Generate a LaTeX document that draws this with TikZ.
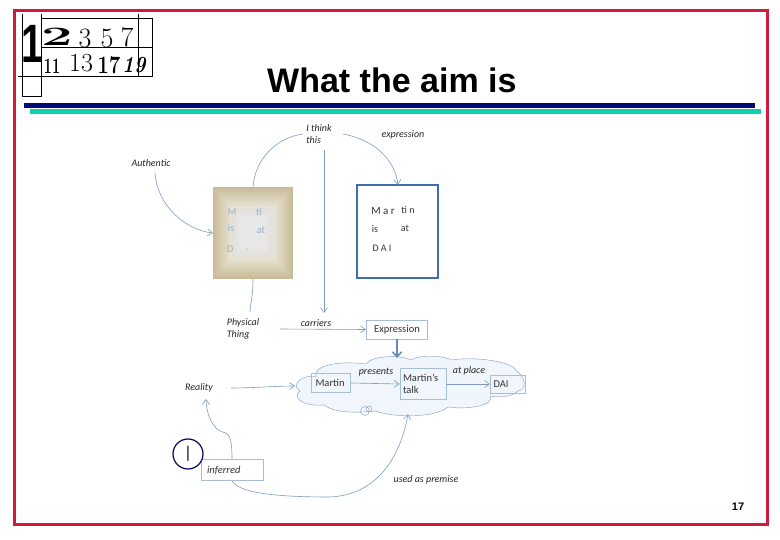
\documentclass[tikz,border=0pt]{standalone}
\usepackage{fontspec}
\setmainfont{Carlito}
\newfontfamily\titlefont{Liberation Sans}
\newfontfamily\logofont{Latin Modern Roman}
\usetikzlibrary{arrows.meta}
\definecolor{framered}{HTML}{D01C3C}
\definecolor{barnavy}{HTML}{000A78}
\definecolor{barteal}{HTML}{10D0B0}
\definecolor{linkblue}{HTML}{7F9CC4}
\definecolor{boxblue}{HTML}{3F6FA8}
\definecolor{boxpale}{HTML}{A8BDD8}
\definecolor{cloudfill}{HTML}{F1F6FC}
\definecolor{beige}{HTML}{C8BA96}
\definecolor{fadetext}{HTML}{9DB2CC}
\tikzset{
  link/.style={draw=linkblue,line width=0.6pt,-{Straight Barb[length=5pt,width=7pt]}},
  plainlink/.style={draw=linkblue,line width=0.6pt},
  lab/.style={font=\itshape\fontsize{10}{11}\selectfont,text=black!85,inner sep=0pt,align=left},
  concept/.style={draw=boxpale,fill=white,line width=0.9pt,font=\fontsize{10.5}{11.5}\selectfont,text=black!80,align=left,inner sep=0pt},
  logonum/.style={font=\logofont\fontsize{28}{28}\selectfont,inner sep=0pt},
  logobold/.style={font=\logofont\bfseries\fontsize{28}{28}\selectfont,inner sep=0pt},
  slidetext/.style={font=\fontsize{10}{10}\selectfont,text=black!80,inner sep=0pt},
  fadetxt/.style={font=\fontsize{10.5}{11}\selectfont,text=fadetext,inner sep=0pt},
}
\begin{document}
\begin{tikzpicture}[x=1pt,y=-1pt]
  \useasboundingbox (0,0) rectangle (780,540);
  \fill[white] (0,0) rectangle (780,540);
  % Slide frame and bars
  \draw[framered,line width=3pt] (14,11) rectangle (767,524);
  \fill[barnavy] (24,103) rectangle (755,108);
  \fill[barteal] (30,109) rectangle (761,114);
  \node[font=\titlefont\bfseries\fontsize{34}{36}\selectfont,anchor=west,inner sep=0pt] (title) at (267,80) {What the aim is};
  \node[font=\titlefont\bfseries\fontsize{11}{12}\selectfont,inner sep=0pt] (pageno) at (738,507) {17};
  % Logo grid
  \draw (22,14) -- (22,96) -- (41,96) -- (41,14);
  \draw (41,18) -- (152,18) -- (152,76) -- (18,76);
  \draw (138,14) -- (138,76);
  \draw[line width=1.2pt] (41,47.5) -- (152,47.5);
  % Logo digits
  \node[font=\titlefont\bfseries\fontsize{54}{54}\selectfont,inner sep=0pt,xscale=0.72] (one) at (32,44) {1};
  \node[logobold,xscale=2,yscale=0.95] (two) at (57,37) {2};
  \node[logonum] (three) at (85,38) {3};
  \node[logonum] (five) at (107,38) {5};
  \node[logonum] (seven) at (127,37) {7};
  \node[logobold,xscale=0.65,font=\logofont\bfseries\fontsize{22}{22}\selectfont] (eleven) at (52,66) {11};
  \node[logonum,font=\logofont\fontsize{26}{26}\selectfont] (thirteen) at (81,63) {13};
  \node[logobold,xscale=0.8,font=\logofont\bfseries\fontsize{25}{25}\selectfont] (seventeen) at (109,65) {17};
  \node[logobold,font=\logofont\bfseries\itshape\fontsize{23}{23}\selectfont,xscale=0.85] (nineteen) at (134,65) {19};
  % Faded text box
  \foreach \i in {0,...,27} {
    \pgfmathsetmacro{\shade}{100-\i*3.3}
    \fill[beige!\shade!white] ({213+\i},{187+\i*1.1}) rectangle ({293-\i},{279-\i*1.1});
  }
  \fill[black!14,opacity=0.55] (232,208) rectangle (273,258);
  \coordinate (boxw) at (213,233);
  \coordinate (boxn) at (253,187);
  \coordinate (boxs) at (253,279);
  \node[fadetxt] (fm) at (232,212) {M};
  \node[fadetxt] (fti) at (259,212) {ti};
  \node[fadetxt] (fis) at (231,228) {is};
  \node[fadetxt] (fat) at (261,230) {at};
  \node[fadetxt] (fd) at (230,249) {D};
  \node[fadetxt] (fdot) at (247,250) {.};
  % Clear text box
  \node[draw=boxblue,line width=1.2pt,minimum width=81pt,minimum height=93pt,inner sep=0pt] (page) at (397.5,231.5) {};
  \node[slidetext,font=\fontsize{11}{11}\selectfont] (mar) at (383,211) {M a r};
  \node[slidetext] (tin) at (408,210) {ti n};
  \node[slidetext] (is) at (375,229) {is};
  \node[slidetext] (at) at (405,228) {at};
  \node[slidetext] (dai) at (382,248) {D A I};
  % Labels
  \node[lab] (authentic) at (151,163) {Authentic};
  \node[lab] (think) at (319,134) {I think\\[1pt]this};
  \node[lab] (expression) at (403,135) {expression};
  \node[lab] (physical) at (243,329) {Physical\\[1pt]Thing};
  \node[lab] (carriers) at (316,323) {carriers};
  \node[lab] (reality) at (199,388) {Reality};
  \node[lab] (premise) at (426,480) {used as premise};
  \node[concept,minimum width=61pt,minimum height=19pt] (expr) at (397,329.5) {Expression};
  % Cloud
  \draw[draw=linkblue,fill=cloudfill] (296,386)
    .. controls (298,378) and (308,375) .. (316,377)
    .. controls (312,367) and (335,360) .. (366,364)
    .. controls (372,355) and (402,355) .. (411,360)
    .. controls (420,354) and (445,356) .. (452,360)
    .. controls (475,356) and (515,362) .. (516,371)
    .. controls (525,375) and (528,390) .. (518,391)
    .. controls (512,397) and (498,398) .. (490,396)
    .. controls (495,405) and (470,410) .. (448,407)
    .. controls (435,418) and (395,418) .. (375,411)
    .. controls (350,414) and (330,411) .. (325,405)
    .. controls (300,407) and (292,396) .. (300,391)
    .. controls (298,390) and (296,388) .. (296,386) -- cycle;
  \coordinate (cloudw) at (295,386);
  \coordinate (cloudn) at (397,358);
  \coordinate (clouds) at (408,414);
  \draw[draw=boxblue!70,thin] (365,411) circle (4.5pt);
  \draw[draw=boxblue!70,thin] (369,409) circle (3pt);
  \node[concept,fill=none,minimum width=39pt,minimum height=19pt,text width=31pt] (martin) at (331,383) {Martin};
  \node[concept,fill=none,minimum width=46pt,minimum height=31pt,text width=40pt] (talk) at (423,384) {Martin's\\talk};
  \node[concept,fill=none,minimum width=35pt,minimum height=18pt,text width=29pt] (place) at (508,384) {DAI};
  \node[lab] (presents) at (376,372) {presents};
  \node[lab] (atplace) at (469,371) {at place};
  % Inferred
  \node[concept,minimum width=62pt,minimum height=21pt,font=\itshape\fontsize{10.5}{11}\selectfont,text width=50pt] (inferred) at (232,470) {inferred};
  \node[circle,draw=barnavy!80!black,line width=1.2pt,fill=white,minimum size=30pt,inner sep=0pt,font=\fontsize{17}{17}\selectfont] (agent) at (188,454) {|};
  % Connectors
  \draw[link] (155,173) .. controls (157,205) and (185,230) .. (boxw);
  \draw[plainlink] (boxn) .. controls (255,160) and (275,138) .. (303,134);
  \draw[link] (343,134) .. controls (375,140) and (395,160) .. (398,185);
  \draw[link] (324,150) -- (324,313);
  \draw[plainlink] (boxs) .. controls (253,295) and (251,300) .. (250,312);
  \draw[link] (280,329) -- (expr.west);
  \draw[draw=boxblue!80,line width=1.6pt,-{Straight Barb[length=5pt,width=9pt]}] (expr.south) -- (cloudn);
  \draw[link] (martin.east) -- (talk.west);
  \draw[link] (talk.east) -- (place.west);
  \draw[link] (231,388) .. controls (255,388) and (275,386) .. (cloudw);
  \draw[link] (232,459) .. controls (232,425) and (225,437) .. (216,428) .. controls (208,420) and (206,405) .. (206,399);
  \draw[link] (232,481) .. controls (240,495) and (290,497) .. (330,497) .. controls (375,495) and (400,460) .. (clouds);
\end{tikzpicture}
\end{document}
